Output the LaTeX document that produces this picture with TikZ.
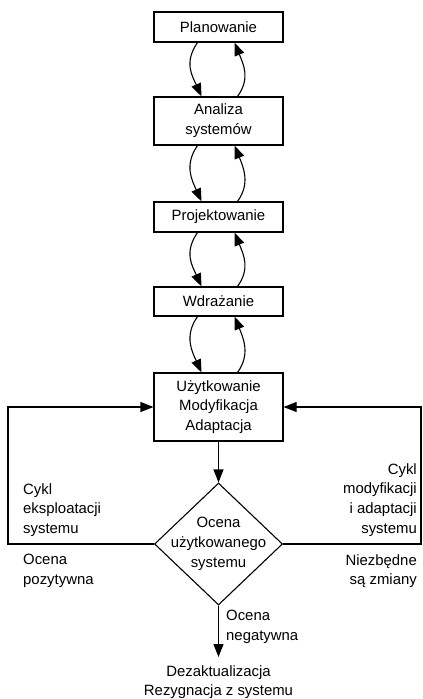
\documentclass[tikz,border=0pt]{standalone}
\usepackage{fontspec}
\setmainfont{Liberation Sans}
\usetikzlibrary{arrows.meta,shapes.geometric}
\begin{document}
\begin{tikzpicture}[x=1pt,y=-1pt,
  every node/.style={font=\fontsize{14.9}{19.8}\selectfont, inner sep=0pt},
  box/.style={draw, line width=1.1pt, minimum width=129pt, align=center},
  arr/.style={line width=1.1pt, -{Triangle[length=13pt,width=10pt]}},
  lbl/.style={align=left},
  rlbl/.style={align=right}]
\useasboundingbox (0,0) rectangle (423,699);
\node[box, minimum height=30pt] (p1) at (218.5,27) {Planowanie};
\node[box, minimum height=48pt] (p2) at (218.5,121) {Analiza\\systemów};
\node[box, minimum height=30pt] (p3) at (218.5,217) {Projektowanie};
\node[box, minimum height=29pt] (p4) at (218.5,301.5) {Wdrażanie};
\node[box, minimum height=68pt] (p5) at (218.5,407) {Użytkowanie\\Modyfikacja\\Adaptacja};
\node[diamond, draw, line width=1.1pt, minimum width=128pt, minimum height=122pt] (dia) at (218.5,544) {};
\node[align=center, anchor=north] (diat) at (218.5,517) {Ocena\\użytkowanego\\systemu};
% curved arrows
\foreach \a/\b in {p1/p2,p2/p3,p3/p4,p4/p5}{
  \draw[arr] ([xshift=-21pt]\a.south) .. controls +(-14,20) and +(-9,-20) .. ([xshift=-17pt]\b.north);
  \draw[arr] ([xshift=19pt]\b.north) .. controls +(13,-18) and +(9,22) .. ([xshift=16pt]\a.south);
}
\draw[arr] (p5.south) -- (dia.north);
\coordinate (L) at (8,407);
\coordinate (R) at (421,407);
\draw[arr] (dia.west) -| (L) -- (p5.west);
\draw[arr] (dia.east) -| (R) -- (p5.east);
\node[align=center, anchor=north] (dez) at (218.5,665) {Dezaktualizacja\\Rezygnacja z systemu};
\draw[arr] (dia.south) -- ([yshift=8pt]dez.north -| dia.south);
\node[lbl, anchor=north west] (neg) at (226,610) {Ocena\\negatywna};
\node[lbl, anchor=north west] (cl) at (23,483) {Cykl\\eksploatacji\\systemu};
\node[lbl, anchor=north west] (op) at (23,554) {Ocena\\pozytywna};
\node[rlbl, anchor=north east] (cr) at (417,463) {Cykl\\modyfikacji\\i adaptacji\\systemu};
\node[rlbl, anchor=north east] (nz) at (417,554) {Niezbędne\\są zmiany};
\end{tikzpicture}
\end{document}
